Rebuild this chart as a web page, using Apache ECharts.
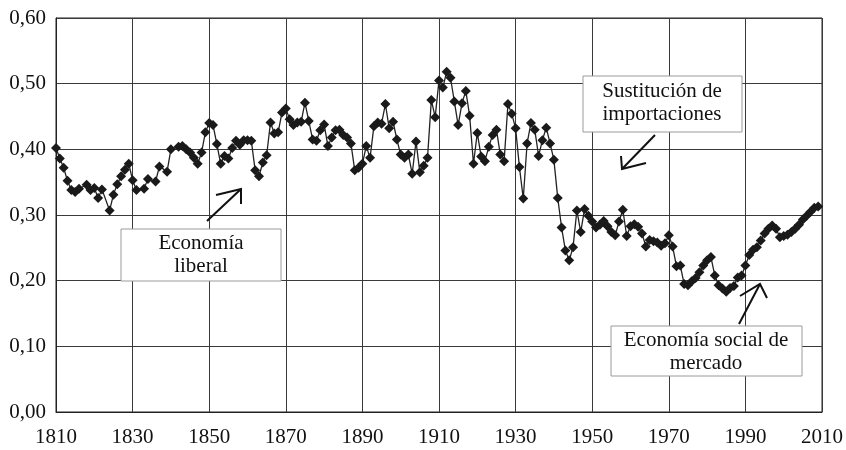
<!DOCTYPE html>
<html>
<head>
<meta charset="utf-8">
<script src="https://cdn.jsdelivr.net/npm/echarts@6/dist/echarts.min.js"></script>
<style>html,body{margin:0;padding:0;background:#fff}#c{width:846px;height:450px}</style>
</head>
<body>
<div id="c"></div>
<script>
var years = [1810,1811,1812,1813,1814,1815,1816,1818,1819,1820,1821,1822,1824,1825,1826,1827,1828,1829,
1830,1831,1833,1834,1836,1837,1839,1840,1842,1843,1844,1845,1846,1847,1848,1849,
1850,1851,1852,1853,1854,1855,1856,1857,1858,1859,1860,1861,1862,1863,1864,1865,1866,1867,1868,1869,
1870,1871,1872,1873,1874,1875,1876,1877,1878,1879,1880,1881,1882,1883,1884,1885,1886,1887,1888,1889,
1890,1891,1892,1893,1894,1895,1896,1897,1898,1899,1900,1901,1902,1903,1904,1905,1906,1907,1908,1909,
1910,1911,1912,1913,1914,1915,1916,1917,1918,1919,1920,1921,1922,1923,1924,1925,1926,1927,1928,1929,
1930,1931,1932,1933,1934,1935,1936,1937,1938,1939,1940,1941,1942,1943,1944,1945,1946,1947,1948,1949,
1950,1951,1952,1953,1954,1955,1956,1957,1958,1959,1960,1961,1962,1963,1964,1965,1966,1967,1968,1969,
1970,1971,1972,1973,1974,1975,1976,1977,1978,1979,1980,1981,1982,1983,1984,1985,1986,1987,1988,1989,
1990,1991,1992,1993,1994,1995,1996,1997,1998,1999,2000,2001,2002,2003,2004,2005,2006,2007,2008,2009];
var ratio = [0.402,0.386,0.372,0.352,0.338,0.335,0.340,0.346,0.338,0.341,0.326,0.339,0.307,0.331,0.347,0.359,0.369,0.378,
0.353,0.338,0.340,0.355,0.351,0.374,0.366,0.400,0.404,0.405,0.400,0.395,0.387,0.378,0.395,0.426,
0.440,0.437,0.408,0.378,0.390,0.386,0.402,0.413,0.407,0.414,0.414,0.413,0.368,0.359,0.380,0.391,0.441,0.424,0.426,0.456,
0.462,0.446,0.437,0.441,0.442,0.471,0.443,0.415,0.413,0.429,0.438,0.405,0.418,0.429,0.430,0.422,0.418,0.409,0.368,0.372,
0.378,0.405,0.387,0.435,0.441,0.439,0.469,0.432,0.442,0.415,0.392,0.387,0.392,0.363,0.412,0.365,0.375,0.387,0.475,0.449,
0.505,0.494,0.518,0.509,0.473,0.437,0.470,0.489,0.451,0.378,0.425,0.389,0.382,0.404,0.422,0.430,0.392,0.382,0.469,0.454,
0.432,0.373,0.325,0.409,0.440,0.430,0.390,0.414,0.433,0.409,0.384,0.326,0.281,0.246,0.231,0.251,0.307,0.274,0.309,0.299,
0.290,0.281,0.285,0.291,0.283,0.274,0.269,0.290,0.308,0.268,0.283,0.286,0.282,0.272,0.252,0.262,0.260,0.258,0.253,0.257,
0.269,0.252,0.222,0.223,0.195,0.193,0.199,0.204,0.213,0.223,0.231,0.236,0.208,0.193,0.188,0.183,0.189,0.192,0.205,0.208,
0.223,0.239,0.247,0.251,0.261,0.272,0.279,0.284,0.279,0.266,0.268,0.270,0.274,0.279,0.285,0.293,0.299,0.305,0.311,0.313];
var xTicks = [1810,1830,1850,1870,1890,1910,1930,1950,1970,1990,2010];
var yTicks = ['0,00','0,10','0,20','0,30','0,40','0,50','0,60'];
var notes = [
  {lines:['Economía','liberal']},
  {lines:['Sustitución de','importaciones']},
  {lines:['Economía social de','mercado']}
];

var pairs = years.map(function(y,i){return [y, ratio[i]];});
var FONT = '"Liberation Serif","Times New Roman",serif';
var chart = echarts.init(document.getElementById('c'), null, {renderer:'canvas'});

function box(x,y,w,h){
  return {type:'rect', shape:{x:x,y:y,width:w,height:h}, style:{fill:'#fff', stroke:'#9a9a9a', lineWidth:1}, z:50};
}
function label(x,y,txt){
  return {type:'text', x:x, y:y, style:{text:txt, font:'21px '+FONT, fill:'#111', align:'center', verticalAlign:'middle', lineHeight:23}, z:51};
}
function arrow(pts){
  return {type:'polyline', shape:{points:pts}, style:{stroke:'#111', lineWidth:2, fill:null}, z:52};
}

chart.setOption({
  animation:false,
  backgroundColor:'#fff',
  grid:{left:56, right:24, top:18, bottom:38, show:true, borderColor:'#222', borderWidth:1},
  xAxis:{type:'value', min:1810, max:2010, interval:20,
    axisLine:{show:true, lineStyle:{color:'#222', width:1}},
    axisTick:{show:false},
    axisLabel:{color:'#111', fontFamily:FONT, fontSize:21, margin:15,
      formatter:function(v){return xTicks.indexOf(v)>=0 ? String(v) : '';}},
    splitLine:{show:true, lineStyle:{color:'#3a3a3a', width:1}}
  },
  yAxis:{type:'value', min:0, max:0.6, interval:0.1,
    axisLine:{show:true, lineStyle:{color:'#222', width:1}},
    axisTick:{show:false},
    axisLabel:{color:'#111', fontFamily:FONT, fontSize:21, margin:10,
      formatter:function(v){return yTicks[Math.round(v*10)];}},
    splitLine:{show:true, lineStyle:{color:'#3a3a3a', width:1}}
  },
  series:[{type:'line', data:pairs, symbol:'diamond', symbolSize:10,
    itemStyle:{color:'#1a1a1a'}, lineStyle:{color:'#222', width:1.3}, z:10}],
  graphic:[
    box(121,229,160,52), label(201,255,notes[0].lines.join('\n')),
    arrow([[207,221],[241,189]]), arrow([[216,195],[241,189],[241,204]]),
    box(583,76,159,56), label(662,103,notes[1].lines.join('\n')),
    arrow([[655,135],[622,169]]), arrow([[621,156],[622,169],[646,163]]),
    box(611,326,191,50), label(706,352,notes[2].lines.join('\n')),
    arrow([[739,324],[760,284]]), arrow([[740,296],[760,284],[767,298]])
  ]
});
</script>
</body>
</html>
